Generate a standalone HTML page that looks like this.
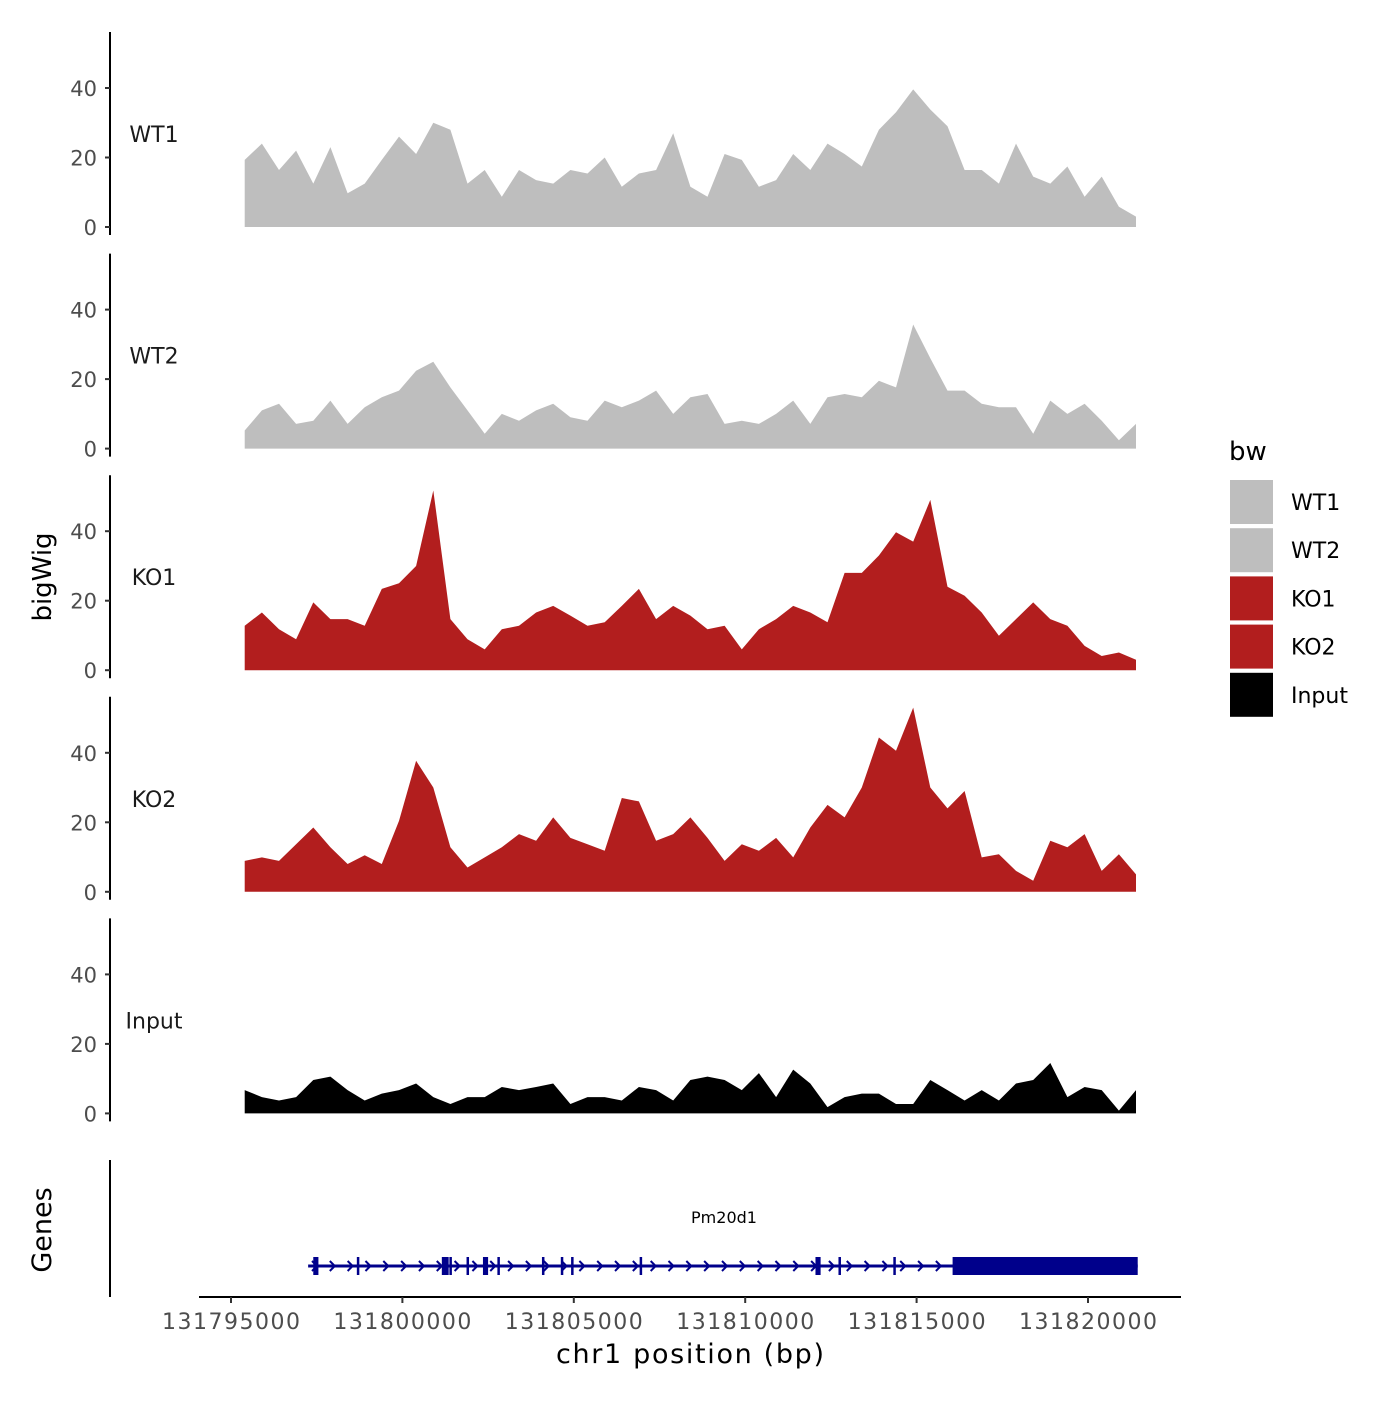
<!DOCTYPE html>
<html><head><meta charset="utf-8"><style>
body{margin:0;background:#fff}
svg text{font-family:"DejaVu Sans","Liberation Sans",sans-serif}
</style></head><body>
<svg id="chart" width="1400" height="1400" viewBox="0 0 1400 1400" xmlns="http://www.w3.org/2000/svg">
<rect width="1400" height="1400" fill="#fff"/>
<g id="panels"></g>
<g id="genes"></g>
<g id="xaxis"></g>
<text x="690" y="1363" font-size="27" text-anchor="middle" textLength="268" fill="#000">chr1 position (bp)</text>
<text transform="translate(51,577) rotate(-90)" font-size="26" text-anchor="middle">bigWig</text>
<text transform="translate(51,1230) rotate(-90)" font-size="27" text-anchor="middle">Genes</text>
<g id="legend">
<text x="1229" y="460" font-size="26">bw</text>
</g>
</svg>
<script>
const tracks = ["WT1","WT2","KO1","KO2","Input"];
const trackColors = ["#bebebe","#bebebe","#b21e1e","#b21e1e","#000000"];
const binStart = 131795400;
const binSize = 500;
const wt1 = [19.3,24,16.4,22,12.5,23,9.7,12.5,19.3,26,21,30,28,12.5,16.4,8.7,16.4,13.5,12.5,16.4,15.4,20,11.6,15.4,16.4,27,11.6,8.7,21,19.3,11.6,13.5,21,16.4,24,21,17.4,28,33,39.6,33.8,29,16.4,16.4,12.5,24,14.5,12.5,17.4,8.7,14.5,5.8,3];
const wt2 = [5.2,11,12.9,7.1,8,13.8,7.1,11.9,14.8,16.7,22.4,25,17.6,11,4.3,10,8,11,12.9,9,8,13.8,11.9,13.8,16.7,10,14.8,15.7,7.1,8,7.1,10,13.8,7.1,14.8,15.7,14.8,19.5,17.6,35.7,26,16.7,16.7,12.9,11.9,11.9,4.3,13.8,10,12.9,8,2.4,7.1];
const ko1 = [12.8,16.6,11.8,8.9,19.5,14.7,14.7,12.8,23.4,25,30,51.7,14.7,8.9,6,11.8,12.8,16.6,18.5,15.7,12.8,13.8,18.5,23.4,14.7,18.5,15.7,11.8,12.8,6,11.8,14.7,18.5,16.6,13.8,28,28,33,39.7,37,49,24,21.4,16.6,9.9,14.7,19.5,14.7,12.8,7,4.1,5.1,3];
const ko2 = [8.9,9.9,8.9,13.7,18.5,12.8,8,10.5,8,20.4,37.7,30,12.8,7,9.9,12.8,16.6,14.7,21.4,15.5,13.7,11.8,27,26,14.7,16.6,21.4,15.5,8.9,13.7,11.8,15.5,9.9,18.5,25,21.4,30,44.4,40.6,53,30,24,29,9.9,10.8,6,3.2,14.7,12.8,16.6,6,10.8,5];
const input = [6.7,4.7,3.7,4.7,9.6,10.6,6.7,3.7,5.7,6.7,8.6,4.7,2.7,4.7,4.7,7.6,6.7,7.6,8.6,2.7,4.7,4.7,3.7,7.6,6.7,3.7,9.6,10.6,9.6,6.7,11.6,4.7,12.6,8.6,1.8,4.7,5.7,5.7,2.7,2.7,9.6,6.7,3.7,6.7,3.7,8.6,9.6,14.5,4.7,7.6,6.7,0.8,6.7];
const series = [wt1,wt2,ko1,ko2,input];
const yTicks = [0,20,40];
const xTicks = [131795000,131800000,131805000,131810000,131815000,131820000];
const exonsThin = [131798700,131801400,131801900,131802800,131804100,131804650,131804950,131806950,131812750,131814350];
const exonsBox = [[131797400,131797550],[131801150,131801350],[131802350,131802500],[131812050,131812200],[131816050,131821450]];
const geneStart = 131797250, geneEnd = 131821450;

const NS="http://www.w3.org/2000/svg";
function X(bp){return 231+(bp-131795000)*(857/25000);}
const PANEL_STEP=221.6, UNIT=3.475;
function Y(k,v){return 227+k*PANEL_STEP - v*UNIT;}
function mk(tag,attrs,parent){const e=document.createElementNS(NS,tag);for(const k in attrs)e.setAttribute(k,attrs[k]);parent.appendChild(e);return e;}

const panels=document.getElementById('panels');
series.forEach((vals,k)=>{
  const g=mk('g',{},panels);
  
  
  let d='M'+X(binStart)+','+Y(k,0);
  vals.forEach((v,i)=>{d+=' L'+X(binStart+i*binSize).toFixed(1)+','+Y(k,v).toFixed(1);});
  d+=' L'+X(binStart+(vals.length-1)*binSize).toFixed(1)+','+Y(k,0)+' Z';
  const p=mk('path',{d:d,fill:trackColors[k]},g);
  
  
  const ax=mk('line',{x1:110,x2:110,y1:Y(k,0)-195,y2:Y(k,0)+8,stroke:'#000','stroke-width':2},g);
  
  
  yTicks.forEach(t=>{
    const tl=mk('line',{x1:105,x2:110,y1:Y(k,t),y2:Y(k,t),stroke:'#333','stroke-width':2},g);
    
    
    const tx=mk('text',{x:97,y:Y(k,t)+8,'font-size':21,'text-anchor':'end',fill:'#4d4d4d'},g);
    tx.textContent=t;
    
    
  });
  const lb=mk('text',{x:154,y:Y(k,0)-85,'font-size':22,'text-anchor':'middle',fill:'#1a1a1a'},g);
  lb.textContent=tracks[k];
  
  
});

// gene track
const gg=document.getElementById('genes');
const gy=1266, navy='#00008b';
mk('line',{x1:110,x2:110,y1:1160,y2:1297,stroke:'#000','stroke-width':2},gg);
mk('line',{x1:X(geneStart),x2:X(geneEnd),y1:gy,y2:gy,stroke:navy,'stroke-width':3},gg);
for(let bp=geneStart+200;bp<131816000;bp+=520){
  const x=X(bp);
  mk('path',{d:`M${x-3},${gy-5} L${x+2},${gy} L${x-3},${gy+5}`,fill:'none',stroke:navy,'stroke-width':2},gg);
}
exonsThin.forEach(bp=>{
  const e=mk('rect',{x:X(bp)-1,y:gy-9,width:2.5,height:18,fill:navy},gg);
  
  
});
exonsBox.forEach(b=>{
  const e=mk('rect',{x:X(b[0]),y:gy-9,width:X(b[1])-X(b[0]),height:18,fill:navy},gg);
  
  
});
const gl=mk('text',{x:724,y:1223,'font-size':16,'text-anchor':'middle',fill:'#000'},gg);
gl.textContent='Pm20d1';



// x axis
const xa=document.getElementById('xaxis');
mk('line',{x1:199,x2:1181,y1:1297,y2:1297,stroke:'#000','stroke-width':2},xa);
xTicks.forEach(t=>{
  const l=mk('line',{x1:X(t),x2:X(t),y1:1297,y2:1303,stroke:'#333','stroke-width':2},xa);
  
  
  const tx=mk('text',{x:X(t),y:1329,'font-size':22,'text-anchor':'middle',textLength:138,fill:'#4d4d4d'},xa);
  tx.textContent=t;
  
  
});

// legend
const lg=document.getElementById('legend');
tracks.forEach((t,i)=>{
  const y=480+i*48.2;
  const r=mk('rect',{x:1230,y:y,width:43,height:44,fill:trackColors[i]},lg);
  
  
  const tx=mk('text',{x:1291,y:y+30,'font-size':22,fill:'#000'},lg);
  tx.textContent=t;
  
  
});
</script>
</body></html>
